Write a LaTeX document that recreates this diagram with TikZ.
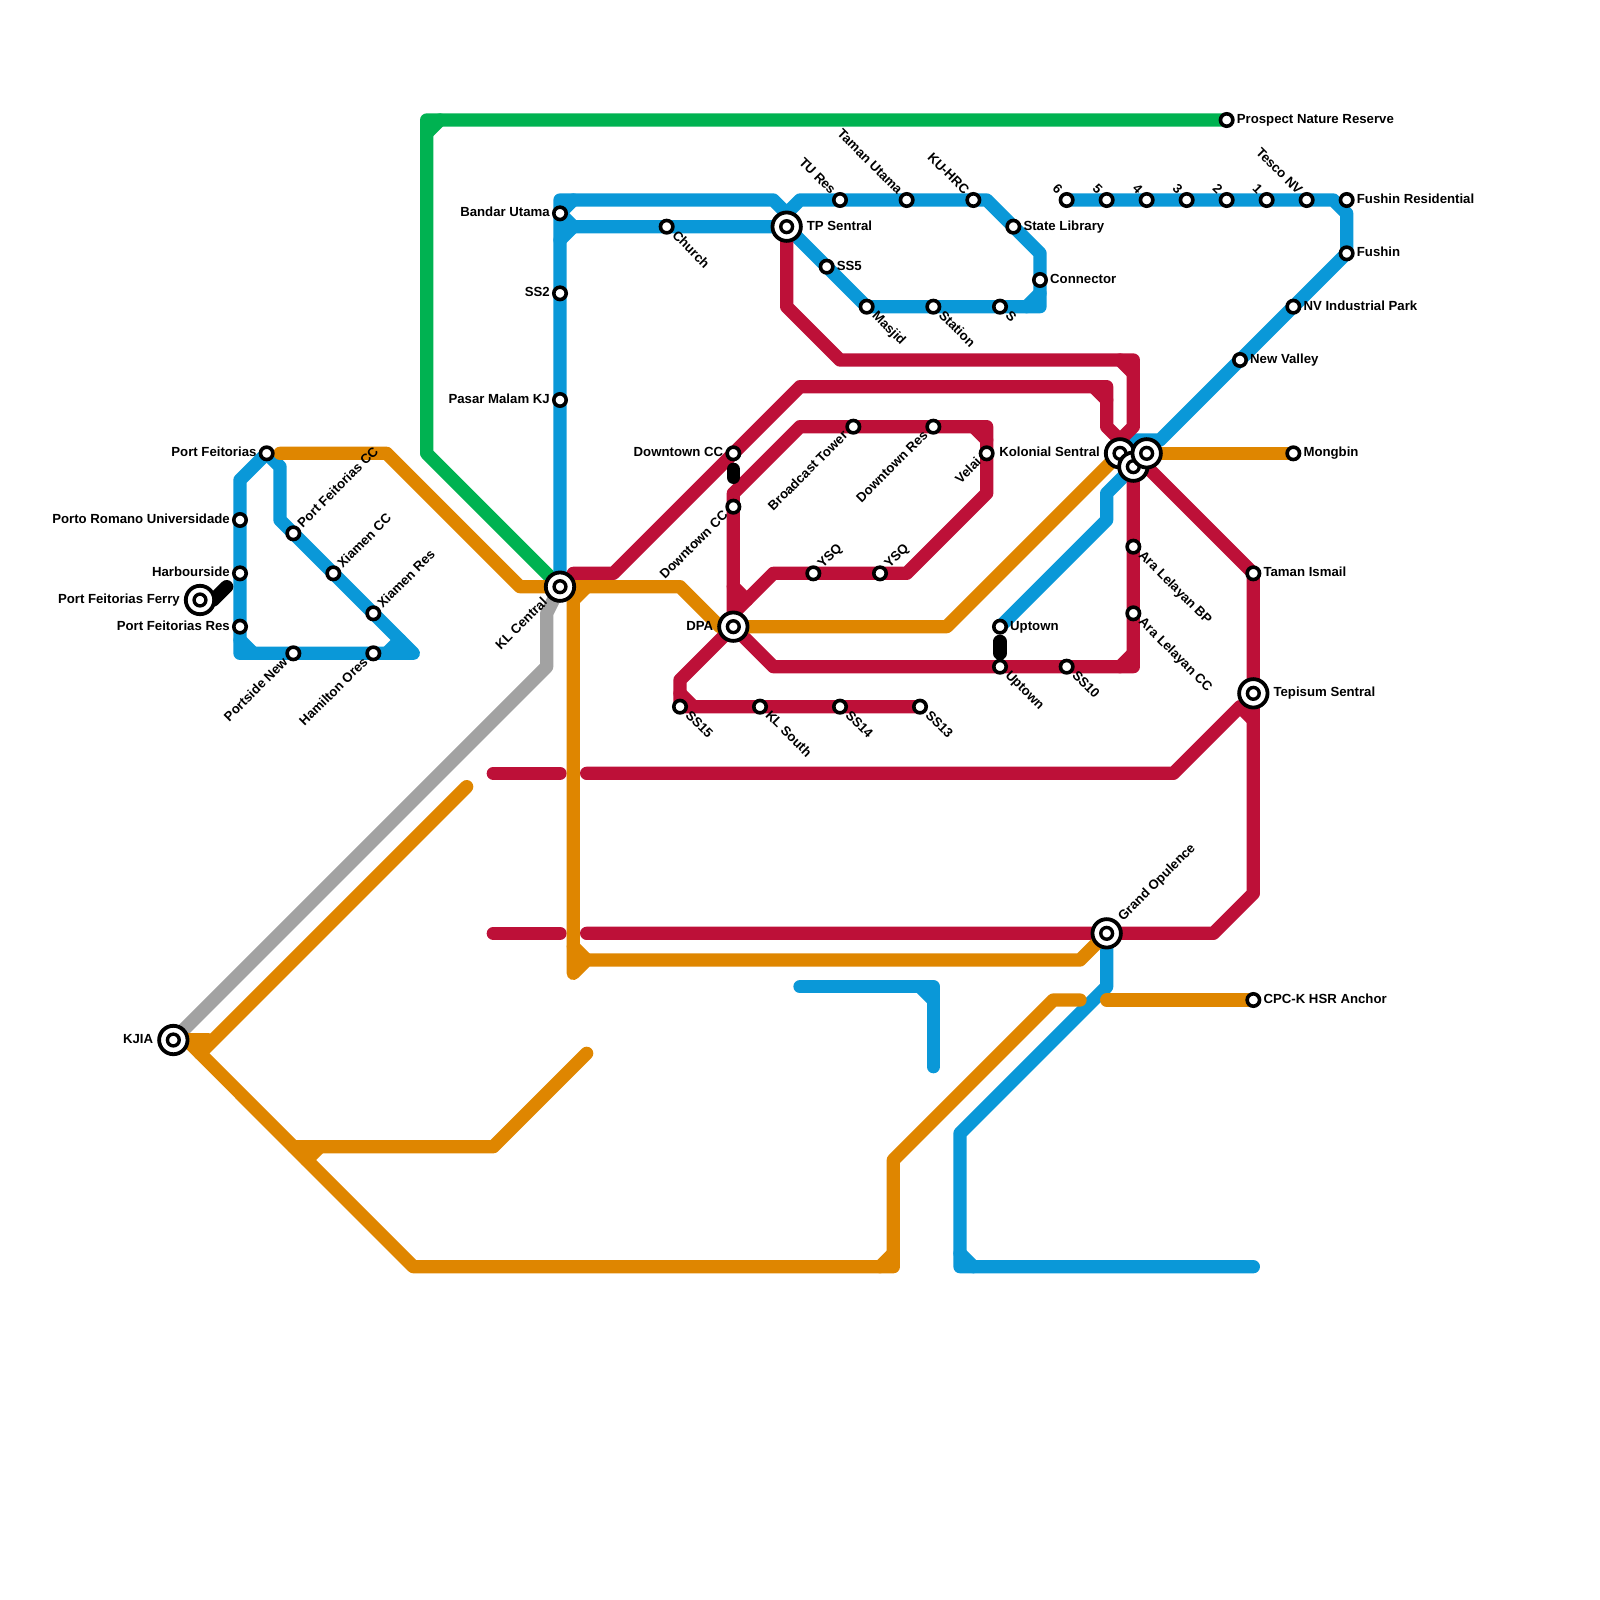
\documentclass[tikz,border=0pt]{standalone}
\usepackage{fontspec}
\setmainfont{Liberation Sans}
\definecolor{lblue}{HTML}{0A98D8}
\definecolor{lorange}{HTML}{DF8600}
\definecolor{lred}{HTML}{BD1038}
\definecolor{lgreen}{HTML}{00B251}
\definecolor{lgrey}{HTML}{A2A2A2}
\tikzset{
  ln/.style={line width=13.3pt,line cap=round,line join=round},
  blueln/.style={ln,draw=lblue},
  orangeln/.style={ln,draw=lorange},
  redln/.style={ln,draw=lred},
  greenln/.style={ln,draw=lgreen},
  greyln/.style={ln,draw=lgrey},
  linkln/.style={ln,draw=black},
  smallst/.style={circle,draw=black,fill=white,line width=3.6pt,minimum size=12.4pt,inner sep=0pt},
  bigst/.style={circle,draw=black,fill=white,line width=3.8pt,minimum size=28.4pt,inner sep=0pt},
  innerst/.style={circle,draw=black,fill=white,line width=3.4pt,minimum size=11.8pt,inner sep=0pt},
  lab/.style={inner sep=0pt,font=\bfseries\fontsize{13.2pt}{15pt}\selectfont,text height=9.5pt,text depth=2.8pt},
  R/.style={lab,anchor=west,xshift=10pt},
  L/.style={lab,anchor=east,xshift=-10pt},
  UR/.style={lab,anchor=west,rotate=45,xshift=10pt},
  DL/.style={lab,anchor=east,rotate=45,xshift=-10pt},
  DR/.style={lab,anchor=west,rotate=-45,xshift=10pt},
  UL/.style={lab,anchor=east,rotate=-45,xshift=-10pt},
  BR/.style={lab,anchor=west,xshift=20pt},
  BL/.style={lab,anchor=east,xshift=-20pt},
  BUR/.style={lab,anchor=west,rotate=45,xshift=20pt},
  BDL/.style={lab,anchor=east,rotate=45,xshift=-20pt},
}
\newcommand{\smst}[3]{\node[smallst] (#1-st) at (#1) {}; \node[#2] (#1-lb) at (#1) {#3};}
\newcommand{\bgst}[3]{\node[bigst] (#1-st) at (#1) {}; \node[innerst] (#1-in) at (#1) {}; \node[#2] (#1-lb) at (#1) {#3};}
\begin{document}
\begin{tikzpicture}[x=13.3333pt,y=-13.3333pt]
\useasboundingbox (0,0) rectangle (120,120);
% station positions
\foreach \n/\p in {pf/{20,34},pru/{18,39},hb/{18,43},pfr/{18,47},ferry/{15,45},pfcc/{22,40},xcc/{25,43},xres/{28,46},pnew/{22,49},hores/{28,49},
  kl/{42,44},bu/{42,16},sstwo/{42,22},pm/{42,30},church/{50,17},tp/{59,17},tur/{63,15},tu/{68,15},ku/{73,15},sl/{76,17},conn/{78,21},s/{75,23},stn/{70,23},mas/{65,23},ssfive/{62,20},
  six/{80,15},five/{83,15},four/{86,15},three/{89,15},two/{92,15},one/{95,15},tesco/{98,15},fr/{101,15},fu/{101,19},nv/{97,23},nval/{93,27},
  ksa/{84,34},ksb/{85,35},ksc/{86,34},mong/{97,34},ti/{94,43},tep/{94,52},albp/{85,41},alcc/{85,46},ssten/{80,50},upa/{75,47},upb/{75,50},go/{83,70},cpc/{94,75},kjia/{13,78},
  dca/{55,34},dcb/{55,38},bt/{64,32},dr/{70,32},velai/{74,34},ysa/{61,43},ysb/{66,43},dpa/{55,47},ssfif/{51,53},kls/{57,53},ssft/{63,53},ssth/{69,53},pnr/{92,9}}
  {\coordinate (\n) at (\p);}
% free ends of lines and of the short interchange links
\coordinate (e1) at (37,58); \coordinate (e2) at (42,58); \coordinate (e3) at (44,58);
\coordinate (e4) at (37,70); \coordinate (e5) at (42,70); \coordinate (e6) at (44,70);
\coordinate (e7) at (60,74); \coordinate (e8) at (70,80);
\coordinate (e9) at (35,59); \coordinate (e10) at (44,79); \coordinate (e11) at (81,75);
\coordinate (e12) at (94,95); \coordinate (e13) at (83,75);
\coordinate (k1) at (16,45); \coordinate (k2) at (17,44);
\coordinate (k3) at (55,35.2); \coordinate (k4) at (55,35.8);
\coordinate (k5) at (75,48.1); \coordinate (k6) at (75,49);
% green
\draw[greenln] (kl) -- (32,34) -- (32,9) -- (pnr);
\draw[greenln] (32,10) -- (33,9);
% grey
\draw[greyln] (kjia) -- (41,50) -- (41,46) -- (kl);
% blue
\draw[blueln] (pf) -- (18,36) -- (18,49) -- (31,49) -- (21,39) -- (21,35) -- (pf);
\draw[blueln] (18,48) -- (19,49);
\draw[blueln] (29,49) -- (30,48);
\draw[blueln] (kl) -- (42,15) -- (58,15) -- (59,16) -- (60,15) -- (74,15) -- (78,19) -- (78,23) -- (65,23) -- (tp) -- (43,17) -- (bu);
\draw[blueln] (59,16) -- (tp);
\draw[blueln] (42,18) -- (43,17);
\draw[blueln] (bu) -- (43,15);
\draw[blueln] (77,23) -- (78,22);
\draw[blueln] (six) -- (100,15) -- (101,16) -- (fu) -- (87,33) -- (85,33) -- (ksa) -- (ksb) -- (83,37) -- (83,39) -- (upa);
\draw[blueln] (go) -- (83,74) -- (72,85) -- (72,95) -- (e12);
\draw[blueln] (72,94) -- (73,95);
\draw[blueln] (e7) -- (70,74) -- (e8);
\draw[blueln] (69,74) -- (70,75);
% red
\draw[redln] (tp) -- (59,23) -- (63,27) -- (85,27) -- (85,32) -- (84,33) -- (83,32) -- (83,29) -- (60,29) -- (46,43) -- (43,43);
\draw[redln] (84,27) -- (85,28);
\draw[redln] (82,29) -- (83,30);
\draw[redln] (84,33) -- (ksa);
\draw[redln] (dpa) -- (dcb) -- (55,37) -- (60,32) -- (74,32) -- (74,37) -- (68,43) -- (58,43) -- (55,46) -- (dpa);
\draw[redln] (73,32) -- (74,33);
\draw[redln] (55,44) -- (56,45);
\draw[redln] (dpa) -- (58,50) -- (85,50) -- (ksb);
\draw[redln] (84,50) -- (85,49);
\draw[redln] (dpa) -- (51,51) -- (ssfif) -- (ssth);
\draw[redln] (51,52) -- (52,53);
\draw[redln] (85,34) -- (ti) -- (94,67) -- (91,70) -- (go) -- (e6);
\draw[redln] (e4) -- (e5);
\draw[redln] (e1) -- (e2);
\draw[redln] (e3) -- (88,58) -- (93,53) -- (94,54);
% orange
\draw[orangeln] (21,34) -- (29,34) -- (39,44) -- (kl) -- (51,44) -- (54,47) -- (dpa) -- (71,47) -- (ksa);
\draw[orangeln] (ksc) -- (mong);
\draw[orangeln] (kl) -- (44,44) -- (43,45) -- (43,73) -- (44,72) -- (81,72) -- (go);
\draw[orangeln] (43,71) -- (44,72);
\draw[orangeln] (e13) -- (cpc);
\draw[orangeln] (e11) -- (79,75) -- (67,87) -- (67,95) -- (31,95) -- (14,78);
\draw[orangeln] (15,79) -- (e9);
\draw[orangeln] (66,95) -- (67,94);
\draw[orangeln] (kjia) -- (15.6,78);
\draw[orangeln] (22,86) -- (37,86) -- (e10);
\draw[orangeln] (23,87) -- (24,86);
% links
\draw[linkln] (k1) -- (k2);
\draw[linkln] (k3) -- (k4);
\draw[linkln] (k5) -- (k6);
% stations
\smst{pf}{L}{Port Feitorias}
\smst{pru}{L}{Porto Romano Universidade}
\smst{hb}{L}{Harbourside}
\smst{pfr}{L}{Port Feitorias Res}
\bgst{ferry}{BL}{Port Feitorias Ferry}
\smst{pfcc}{UR}{Port Feitorias CC}
\smst{xcc}{UR}{Xiamen CC}
\smst{xres}{UR}{Xiamen Res}
\smst{pnew}{DL}{Portside New}
\smst{hores}{DL}{Hamilton Ores}
\bgst{kl}{BDL}{KL Central}
\smst{bu}{L}{Bandar Utama}
\smst{sstwo}{L}{SS2}
\smst{pm}{L}{Pasar Malam KJ}
\smst{church}{DR}{Church}
\bgst{tp}{BR}{TP Sentral}
\smst{tur}{UL}{TU Res}
\smst{tu}{UL}{Taman Utama}
\smst{ku}{UL}{KU-HRC}
\smst{sl}{R}{State Library}
\smst{conn}{R}{Connector}
\smst{s}{DR}{S}
\smst{stn}{DR}{Station}
\smst{mas}{DR}{Masjid}
\smst{ssfive}{R}{SS5}
\smst{six}{UL}{6}
\smst{five}{UL}{5}
\smst{four}{UL}{4}
\smst{three}{UL}{3}
\smst{two}{UL}{2}
\smst{one}{UL}{1}
\smst{tesco}{UL}{Tesco NV}
\smst{fr}{R}{Fushin Residential}
\smst{fu}{R}{Fushin}
\smst{nv}{R}{NV Industrial Park}
\smst{nval}{R}{New Valley}
\smst{mong}{R}{Mongbin}
\smst{ti}{R}{Taman Ismail}
\bgst{tep}{BR}{Tepisum Sentral}
\smst{albp}{DR}{Ara Lelayan BP}
\smst{alcc}{DR}{Ara Lelayan CC}
\smst{ssten}{DR}{SS10}
\smst{upa}{R}{Uptown}
\smst{upb}{DR}{Uptown}
\bgst{go}{BUR}{Grand Opulence}
\smst{cpc}{R}{CPC-K HSR Anchor}
\bgst{kjia}{BL}{KJIA}
\smst{dca}{L}{Downtown CC}
\smst{dcb}{DL}{Downtown CC}
\smst{bt}{DL}{Broadcast Tower}
\smst{dr}{DL}{Downtown Res}
\smst{velai}{DL}{Velai}
\smst{ysa}{UR}{YSQ}
\smst{ysb}{UR}{YSQ}
\bgst{dpa}{BL}{DPA}
\smst{ssfif}{DR}{SS15}
\smst{kls}{DR}{KL South}
\smst{ssft}{DR}{SS14}
\smst{ssth}{DR}{SS13}
\smst{pnr}{R}{Prospect Nature Reserve}
\bgst{ksa}{BL}{Kolonial Sentral}
\node[bigst] (ksb-st) at (ksb) {}; \node[innerst] (ksb-in) at (ksb) {};
\node[bigst] (ksc-st) at (ksc) {}; \node[innerst] (ksc-in) at (ksc) {};
\end{tikzpicture}
\end{document}
